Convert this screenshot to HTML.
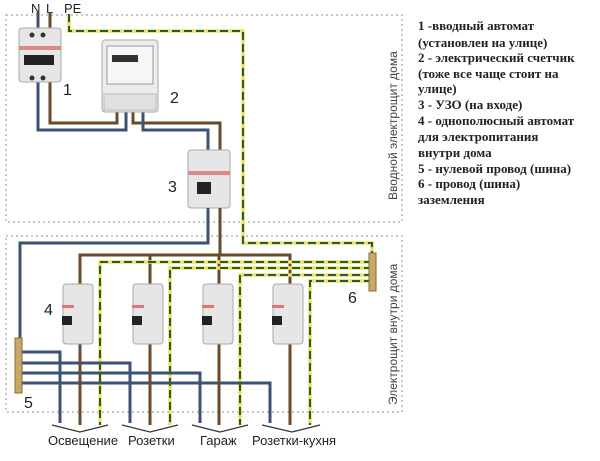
<!DOCTYPE html>
<html><head><meta charset="utf-8"><style>
body{margin:0;background:#fff;width:600px;height:461px;overflow:hidden}
svg{display:block}
.b{stroke:#3d5272;stroke-width:3;fill:none}
.r{stroke:#6a4a2c;stroke-width:3;fill:none}
.y{stroke:#e6e36a;stroke-width:3.5;fill:none}
.g{stroke:#2e5a2c;stroke-width:2;fill:none;stroke-dasharray:8 4}
.box{stroke:#c8c8c8;stroke-width:2;fill:none;stroke-dasharray:2 3}
.lbl{font-family:"Liberation Sans",sans-serif;font-size:16px;fill:#222}
.cap{font-family:"Liberation Sans",sans-serif;font-size:13px;fill:#222}
.leg{font-family:"Liberation Serif",serif;font-weight:bold;font-size:13px;fill:#222}
.rot{font-family:"Liberation Sans",sans-serif;font-size:12px;fill:#444}
</style></head><body>
<svg width="600" height="461" viewBox="0 0 600 461">
<rect class="box" x="6" y="15" width="396" height="207"/>
<rect class="box" x="6" y="236" width="396" height="176"/>
<text class="rot" transform="translate(397,200) rotate(-90)">Вводной электрощит дома</text>
<text class="rot" transform="translate(397,405) rotate(-90)">Электрощит внутри дома</text>
<text class="lbl" x="31" y="13" style="font-size:13px">N</text>
<text class="lbl" x="46" y="13" style="font-size:13px">L</text>
<text class="lbl" x="64" y="13" style="font-size:13px">PE</text>
<!-- top wires -->
<path class="b" d="M38 12V130H126V112"/>
<path class="r" d="M50 12V123H117V112"/>
<path class="r" d="M133 112V123H220V152"/>
<path class="b" d="M143 112V130H208V152"/>
<path class="y" d="M69 14V31H243V243H372V255"/>
<path class="g" d="M69 14V31H243V243H372V255"/>
<!-- breaker 1 -->
<rect x="19" y="28" width="42" height="54" rx="3" fill="#e6e6e6" stroke="#aaa"/>
<rect x="19" y="46" width="42" height="4" fill="#d88"/>
<rect x="24" y="55" width="30" height="10" fill="#222"/>
<circle cx="32" cy="35" r="2.5" fill="#333"/><circle cx="43" cy="35" r="2.5" fill="#333"/>
<circle cx="32" cy="78" r="2.5" fill="#333"/><circle cx="43" cy="78" r="2.5" fill="#333"/>
<text class="lbl" x="63" y="95">1</text>
<!-- meter -->
<rect x="102" y="40" width="56" height="72" rx="3" fill="#ececec" stroke="#aaa"/>
<rect x="107" y="46" width="46" height="38" fill="#f6f6f6" stroke="#999"/>
<rect x="112" y="55" width="26" height="7" fill="#333"/>
<rect x="104" y="94" width="52" height="16" fill="#e0e0e0" stroke="#bbb"/>
<text class="lbl" x="170" y="103">2</text>
<!-- RCD -->
<rect x="188" y="150" width="42" height="58" rx="3" fill="#e6e6e6" stroke="#aaa"/>
<rect x="188" y="171" width="42" height="4" fill="#d88"/>
<rect x="197" y="182" width="14" height="12" fill="#222"/>
<text class="lbl" x="168" y="192">3</text>
<!-- lower wiring -->
<path class="b" d="M208 208V243H20V340"/>
<path class="r" d="M220 208V255"/>
<path class="r" d="M80 285V255H290V285"/>
<path class="r" d="M150 255V285M219 255V285"/>
<path class="y" d="M372 262H100V425M372 268H170V425M372 275H240V425M372 281H310V425"/>
<path class="g" d="M372 262H100V425M372 268H170V425M372 275H240V425M372 281H310V425"/>
<path class="b" d="M20 352H60V423M20 363H130V423M20 373H200V423M20 383H270V423"/>
<path class="r" d="M80 340V425M150 340V425M219 340V425M290 340V425"/>
<!-- buses -->
<rect x="15" y="338" width="7" height="55" fill="#c9a865" stroke="#8a6a3a"/>
<rect x="369" y="253" width="7" height="38" fill="#c9a865" stroke="#8a6a3a"/>
<text class="lbl" x="24" y="408">5</text>
<text class="lbl" x="348" y="303">6</text>
<text class="lbl" x="44" y="315">4</text>
<!-- breakers -->
<g fill="#e6e6e6" stroke="#aaa">
<rect x="63" y="284" width="30" height="60" rx="3"/>
<rect x="133" y="284" width="30" height="60" rx="3"/>
<rect x="203" y="284" width="30" height="60" rx="3"/>
<rect x="273" y="284" width="30" height="60" rx="3"/>
</g>
<g fill="#222">
<rect x="62" y="316" width="10" height="9"/><rect x="132" y="316" width="10" height="9"/>
<rect x="202" y="316" width="10" height="9"/><rect x="272" y="316" width="10" height="9"/>
</g>
<g fill="#d77">
<rect x="62" y="305" width="12" height="3"/><rect x="132" y="305" width="12" height="3"/>
<rect x="202" y="305" width="12" height="3"/><rect x="272" y="305" width="12" height="3"/>
</g>
<!-- brackets -->
<g stroke="#333" stroke-width="1.2" fill="none">
<path d="M52 425L80 432L108 425"/><path d="M122 425L150 432L178 425"/>
<path d="M192 425L220 432L248 425"/><path d="M262 425L292 432L320 425"/>
</g>
<text class="cap" x="48" y="445">Освещение</text>
<text class="cap" x="128" y="445">Розетки</text>
<text class="cap" x="200" y="445">Гараж</text>
<text class="cap" x="252" y="445">Розетки-кухня</text>
<!-- legend -->
<g class="leg">
<text x="418" y="30">1 -вводный автомат</text>
<text x="418" y="47">(установлен на улице)</text>
<text x="418" y="62">2 - электрический счетчик</text>
<text x="418" y="78">(тоже все чаще стоит на</text>
<text x="418" y="93">улице)</text>
<text x="418" y="109">3 - УЗО (на входе)</text>
<text x="418" y="125">4 - однополюсный автомат</text>
<text x="418" y="141">для электропитания</text>
<text x="418" y="157">внутри дома</text>
<text x="418" y="173">5 - нулевой провод (шина)</text>
<text x="418" y="188">6 - провод (шина)</text>
<text x="418" y="204">заземления</text>
</g>
</svg>
</body></html>
